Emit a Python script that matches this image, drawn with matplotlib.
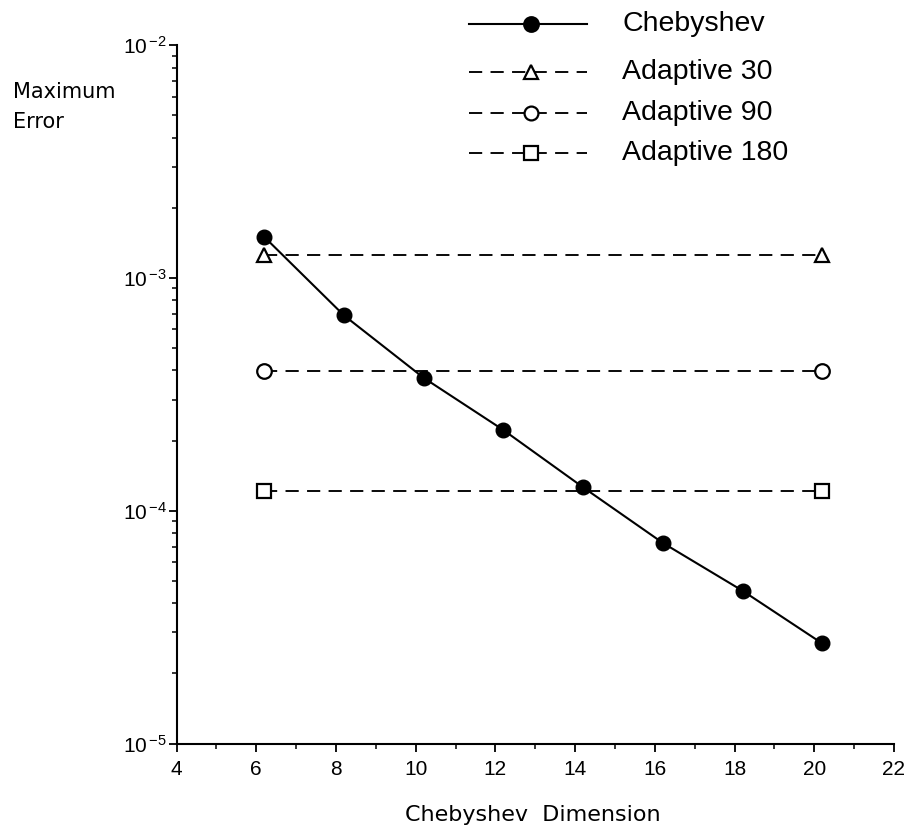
import math
import matplotlib
matplotlib.use("Agg")
import matplotlib.pyplot as plt
from matplotlib.lines import Line2D
from matplotlib.ticker import LogLocator, MultipleLocator, FixedLocator, FuncFormatter, NullFormatter

plt.rcParams["font.family"] = ["Liberation Sans", "DejaVu Sans"]
plt.rcParams["mathtext.fontset"] = "custom"
plt.rcParams["mathtext.rm"] = "Liberation Sans"
plt.rcParams["mathtext.default"] = "regular"
plt.rcParams["lines.scale_dashes"] = False

# Chebyshev approximation error versus dimension
cheb_dim = [6.2, 8.2, 10.2, 12.2, 14.2, 16.2, 18.2, 20.2]
cheb_err = [1.50e-3, 6.90e-4, 3.72e-4, 2.22e-4, 1.26e-4, 7.27e-5, 4.53e-5, 2.69e-5]

# Adaptive schemes: constant error level across the dimension range
adaptive_dim = [6.2, 20.2]
adaptive30_err = [1.25e-3, 1.25e-3]
adaptive90_err = [3.98e-4, 3.98e-4]
adaptive180_err = [1.21e-4, 1.21e-4]

series_labels = ["Chebyshev", "Adaptive 30", "Adaptive 90", "Adaptive 180"]
x_ticks = [4, 6, 8, 10, 12, 14, 16, 18, 20, 22]

W, H = 911, 833
fig = plt.figure(figsize=(W / 100, H / 100), dpi=100)
ax = fig.add_axes([176.5 / W, 1 - 743.5 / H, (894 - 176.5) / W, (743.5 - 45) / H])

dash = (0, (9.5, 6.0))
lw = 1.35
ms = 10.5

ax.plot(cheb_dim, cheb_err, color="black", lw=1.5, marker="o", ms=ms,
        markerfacecolor="black", markeredgecolor="black", zorder=4)
styles = [
    (adaptive30_err, "^"),
    (adaptive90_err, "o"),
    (adaptive180_err, "s"),
]
for err, mk in styles:
    ax.plot(adaptive_dim, err, color="black", lw=lw, linestyle=dash, marker=mk,
            ms=ms if mk != "s" else ms * 0.95, markerfacecolor="white",
            markeredgecolor="black", markeredgewidth=1.6, zorder=3)

ax.set_yscale("log")
ax.set_xlim(4, 22)
ax.set_ylim(1e-5, 1e-2)

ax.xaxis.set_major_locator(FixedLocator(x_ticks))
ax.xaxis.set_minor_locator(MultipleLocator(1))
ax.yaxis.set_major_locator(LogLocator(base=10, numticks=10))
ax.yaxis.set_minor_locator(LogLocator(base=10, subs=range(2, 10), numticks=20))
ax.yaxis.set_minor_formatter(NullFormatter())


def exp_fmt(v, pos):
    e = int(round(math.log10(v)))
    return r"$10^{\,\mathregular{-%d}}$" % abs(e)


ax.yaxis.set_major_formatter(FuncFormatter(exp_fmt))

for s in ("top", "right"):
    ax.spines[s].set_visible(False)
for s in ("left", "bottom"):
    ax.spines[s].set_linewidth(1.5)

ax.tick_params(axis="both", which="major", direction="out", length=6, width=1.3,
               labelsize=15, color="black")
ax.tick_params(axis="both", which="minor", direction="out", length=3.5, width=1.1)
ax.tick_params(axis="x", which="major", pad=6)
ax.tick_params(axis="y", which="major", pad=1)

# Axis titles
fig.text(13 / W, 1 - 92 / H, "Maximum", ha="left", va="center",
         fontsize=15, family="DejaVu Sans")
fig.text(13 / W, 1 - 122 / H, "Error", ha="left", va="center",
         fontsize=15, family="DejaVu Sans")
fig.text(533 / W, 1 - 815 / H, "Chebyshev  Dimension", ha="center", va="center",
         fontsize=16, family="DejaVu Sans")

# Legend drawn in figure coordinates
leg_y = [24, 72, 113, 153]
leg_markers = [("o", "black", "-"), ("^", "white", dash), ("o", "white", dash), ("s", "white", dash)]
for y, (mk, fc, ls), label in zip(leg_y, leg_markers, series_labels):
    fy = 1 - y / H
    fig.add_artist(Line2D([469 / W, 587 / W], [fy, fy], transform=fig.transFigure,
                          color="black", lw=1.5 if ls == "-" else lw, linestyle=ls))
    fig.add_artist(Line2D([531 / W], [fy], transform=fig.transFigure, marker=mk,
                          ms=ms if fc == "black" else ms * 0.95, markerfacecolor=fc,
                          markeredgecolor="black", markeredgewidth=1.6, linestyle="none"))
    fig.text(622 / W, fy, label, ha="left", va="center", fontsize=20.5)

fig.savefig("out.png", dpi=100)
